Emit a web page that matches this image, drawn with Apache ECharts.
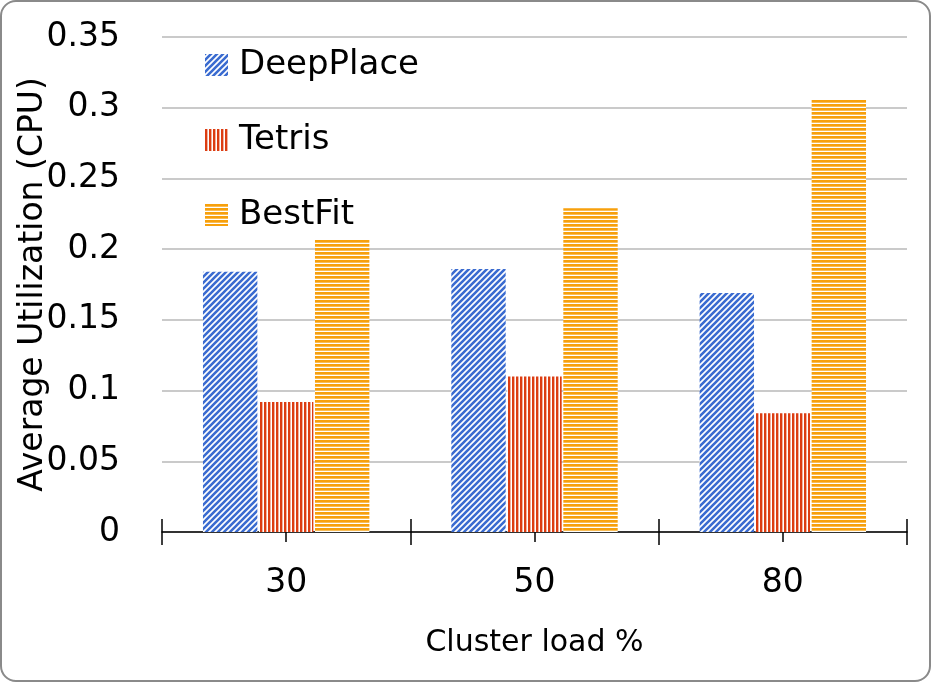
<!DOCTYPE html>
<html>
<head>
<meta charset="utf-8">
<script src="https://cdn.jsdelivr.net/npm/echarts@6/dist/echarts.min.js"></script>
<style>
	html, body { margin: 0; padding: 0; background: #fff; }
	#chart { width: 932px; height: 683px; }
</style>
</head>
<body>
<div id="chart"></div>
<script>
var categories = ['30', '50', '80'];
var seriesNames = ['DeepPlace', 'Tetris', 'BestFit'];
var deepPlace = [0.184, 0.186, 0.169];
var tetris = [0.092, 0.110, 0.084];
var bestFit = [0.207, 0.229, 0.306];
var yTicks = { min: 0, max: 0.35, interval: 0.05 };

/* 条纹填充 */
function makePattern(kind, color){
	var c = document.createElement('canvas');
	var ctx = c.getContext('2d');
	if(kind === 'diag'){
		c.width = 6; c.height = 6;
		ctx.fillStyle = '#fff';
		ctx.fillRect(0, 0, 6, 6);
		ctx.strokeStyle = color;
		ctx.lineWidth = 2.6;
		ctx.beginPath();
		ctx.moveTo(-1, 7); ctx.lineTo(7, -1);
		ctx.moveTo(-4, 4); ctx.lineTo(4, -4);
		ctx.moveTo(2, 10); ctx.lineTo(10, 2);
		ctx.stroke();
	} else if(kind === 'vert'){
		c.width = 4; c.height = 4;
		ctx.fillStyle = '#fff';
		ctx.fillRect(0, 0, 4, 4);
		ctx.fillStyle = color;
		ctx.fillRect(0, 0, 2, 4);
		ctx.globalAlpha = 0.4;
		ctx.fillRect(2, 0, 1, 4);
	} else {
		c.width = 4; c.height = 4;
		ctx.fillStyle = '#fff';
		ctx.fillRect(0, 0, 4, 4);
		ctx.fillStyle = color;
		ctx.fillRect(0, 0, 4, 2);
		ctx.globalAlpha = 0.7;
		ctx.fillRect(0, 2, 4, 1);
	}
	return { image: c, repeat: 'repeat' };
}

var font = 'DejaVu Sans';
var chart = echarts.init(document.getElementById('chart'), null, { renderer: 'canvas' });

function bar(name, data, fill){
	return {
		name: name,
		type: 'bar',
		data: data,
		barGap: '3%',
		barCategoryGap: '33%',
		itemStyle: { color: fill },
		emphasis: { disabled: true }
	};
}

var option = {
	animation: false,
	backgroundColor: '#fff',
	graphic: [{
		type: 'rect',
		shape: { x: 1, y: 1, width: 929, height: 680, r: 15 },
		style: { fill: 'none', stroke: '#8a8a8a', lineWidth: 2 },
		silent: true,
		z: 100
	}],
	grid: { left: 162, right: 25, top: 37, bottom: 151, containLabel: false, outerBoundsMode: 'none' },
	legend: {
		orient: 'vertical',
		left: 200,
		top: 41,
		icon: 'rect',
		itemWidth: 23,
		itemHeight: 22,
		itemGap: 37,
		textStyle: { fontFamily: font, fontSize: 34, color: '#000', lineHeight: 38, padding: [0, 0, 0, 6] },
		data: seriesNames
	},
	xAxis: [{
		type: 'category',
		data: categories,
		axisLine: { lineStyle: { color: '#000', width: 1.5 } },
		axisTick: { show: false },
		axisLabel: { fontFamily: font, fontSize: 33, color: '#000', margin: 35 },
		name: 'Cluster load %',
		nameLocation: 'middle',
		nameGap: 96,
		nameMoveOverlap: false,
		nameTextStyle: { fontFamily: font, fontSize: 30, color: '#000' }
	}, {
		type: 'category',
		data: categories,
		position: 'bottom',
		offset: -13,
		axisLine: { show: false },
		axisTick: { show: true, length: 26, lineStyle: { color: '#000', width: 1.5 } },
		axisLabel: { show: false }
	}, {
		type: 'category',
		data: categories,
		position: 'bottom',
		offset: -10,
		axisLine: { show: false },
		axisTick: { show: true, alignWithLabel: true, length: 20, lineStyle: { color: '#000', width: 1.5 } },
		axisLabel: { show: false }
	}],
	yAxis: {
		type: 'value',
		min: yTicks.min,
		max: yTicks.max,
		interval: yTicks.interval,
		axisLine: { show: false },
		axisTick: { show: false },
		splitLine: { lineStyle: { color: '#b8b8b8', width: 1.5 } },
		axisLabel: { fontFamily: font, fontSize: 33, color: '#000', margin: 42 },
		name: 'Average Utilization (CPU)',
		nameLocation: 'middle',
		nameGap: 112,
		nameMoveOverlap: false,
		nameTextStyle: { fontFamily: font, fontSize: 33, color: '#000' }
	},
	series: [
		bar(seriesNames[0], deepPlace, makePattern('diag', '#3a6bd0')),
		bar(seriesNames[1], tetris, makePattern('vert', '#dc3d12')),
		bar(seriesNames[2], bestFit, makePattern('horiz', '#f7a00c'))
	]
};
chart.setOption(option);
</script>
</body>
</html>
